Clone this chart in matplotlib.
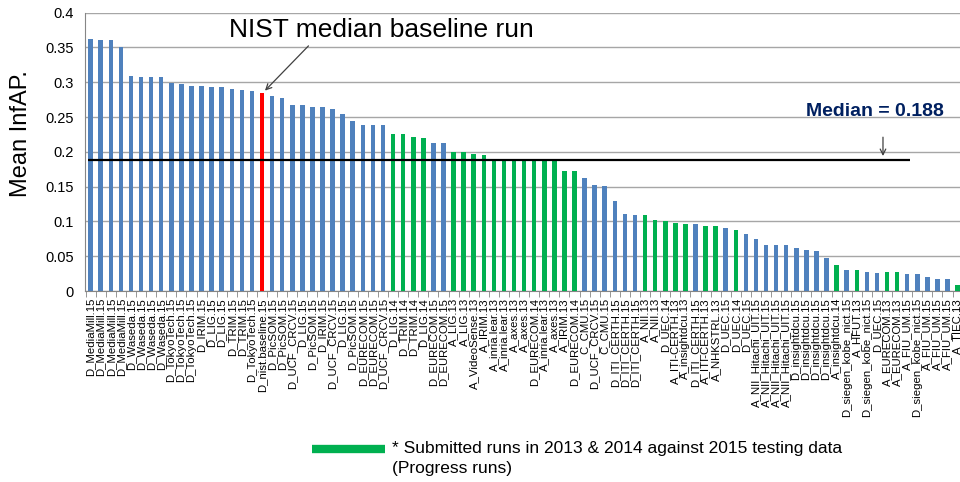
import numpy as np
import matplotlib
matplotlib.use("Agg")
import matplotlib.pyplot as plt
from matplotlib.ticker import FixedLocator

plt.rcParams['font.family'] = ['Liberation Sans', 'DejaVu Sans']

# run names, in ranked order
runs = (
    ['D_MediaMill.15'] * 4 + ['D_Waseda.15'] * 4 + ['D_TokyoTech.15'] * 3 +
    ['D_IRIM.15', 'D_LIG.15', 'D_LIG.15', 'D_TRIM.15', 'D_TRIM.15',
     'D_TokyoTech.15', 'D_nist.baseline.15', 'D_PicSOM.15', 'D_PicSOM.15',
     'D_UCF_CRCV.15', 'D_LIG.15', 'D_PicSOM.15', 'D_IRIM.15', 'D_UCF_CRCV.15',
     'D_LIG.15', 'D_PicSOM.15', 'D_EURECOM.15', 'D_EURECOM.15', 'D_UCF_CRCV.15',
     'D_LIG.14', 'D_TRIM.14', 'D_TRIM.14', 'D_LIG.14', 'D_EURECOM.15',
     'D_EURECOM.15', 'A_LIG.13', 'A_LIG.13', 'A_VideoSense.13', 'A_IRIM.13',
     'A_inria.lear.13', 'A_inria.lear.13', 'A_axes.13', 'A_axes.13',
     'D_EURECOM.14', 'A_inria.lear.13', 'A_axes.13', 'A_IRIM.13',
     'D_EURECOM.14', 'C_CMU.15', 'D_UCF_CRCV.15', 'C_CMU.15',
     'D_ITI_CERTH.15', 'D_ITI_CERTH.15', 'D_ITI_CERTH.15', 'A_NII.13',
     'A_NII.13', 'D_UEC.14', 'A_ITI-CERTH.13', 'A_insightdcu.13',
     'D_ITI_CERTH.15', 'A_ITI-CERTH.13', 'A_NHKSTRL.13', 'D_UEC.15',
     'D_UEC.14', 'D_UEC.15'] +
    ['A_NII_Hitachi_UIT.15'] * 4 + ['D_insightdcu.15'] * 4 +
    ['A_insightdcu.14', 'D_siegen_kobe_nict.15', 'A_HFUT.13',
     'D_siegen_kobe_nict.15', 'D_UEC.15', 'A_EURECOM.13', 'A_EURECOM.13',
     'A_FIU_UM.15', 'D_siegen_kobe_nict.15', 'A_FIU_UM.15', 'A_FIU_UM.15',
     'A_FIU_UM.15', 'A_TIEC.13']
)

infap = [
    0.362, 0.360, 0.360, 0.350, 0.309, 0.307, 0.307, 0.307, 0.299, 0.297,
    0.295, 0.295, 0.293, 0.293, 0.290, 0.289, 0.287, 0.284, 0.280, 0.277,
    0.267, 0.267, 0.265, 0.264, 0.262, 0.254, 0.244, 0.239, 0.239, 0.238,
    0.225, 0.225, 0.221, 0.220, 0.213, 0.213, 0.200, 0.200, 0.197, 0.195,
    0.188, 0.188, 0.188, 0.188, 0.188, 0.188, 0.188, 0.173, 0.173, 0.162,
    0.152, 0.151, 0.129, 0.111, 0.110, 0.109, 0.102, 0.100, 0.098, 0.097,
    0.096, 0.094, 0.093, 0.090, 0.088, 0.082, 0.075, 0.066, 0.066, 0.066,
    0.062, 0.059, 0.057, 0.047, 0.037, 0.031, 0.030, 0.028, 0.026, 0.027,
    0.027, 0.025, 0.024, 0.020, 0.018, 0.018, 0.009,
]

y_ticks = [0, 0.05, 0.1, 0.15, 0.2, 0.25, 0.3, 0.35, 0.4]
y_tick_labels = ['0', '0.05', '0.1', '0.15', '0.2', '0.25', '0.3', '0.35', '0.4']

median_value = 0.188
baseline_run = 'D_nist.baseline.15'

BLUE = '#4f81bd'
GREEN = '#00b050'
RED = '#ff0000'


def bar_colour(name):
    if name == baseline_run:
        return RED
    if name.endswith('.13') or name.endswith('.14'):
        return GREEN
    return BLUE


x = np.arange(len(runs))
colours = [bar_colour(r) for r in runs]

fig = plt.figure(figsize=(9.6, 4.82), dpi=100)
ax = fig.add_axes([0.0885, 0.396, 0.9115, 0.578])

ax.bar(x, infap, width=0.45, color=colours, zorder=3)

ax.set_xlim(-0.565, 86.24)
ax.set_ylim(0, 0.4)
ax.set_yticks(y_ticks)
ax.set_yticklabels(y_tick_labels)
ax.grid(axis='y', color='#a6a6a6', linewidth=1.0, zorder=0)
ax.set_axisbelow(True)

ax.set_xticks(x)
ax.set_xticklabels(runs, rotation=90, fontsize=8.2, va='top')
ax.xaxis.set_minor_locator(FixedLocator(np.arange(-0.5, len(runs), 1.0)))
ax.tick_params(axis='x', which='major', length=0, pad=5)
ax.tick_params(axis='x', which='minor', length=4, color='#868686', direction='out')
ax.tick_params(axis='y', length=0, labelsize=10.5, pad=8)

for s in ('top', 'right'):
    ax.spines[s].set_visible(False)
ax.spines['left'].set_color('#868686')
ax.spines['bottom'].set_color('#868686')

ax.set_ylabel('Mean InfAP.', fontsize=17)
ax.yaxis.set_label_coords(-0.06, 0.565)

# median line
ax.hlines(median_value, -0.27, 81.3, color='black', linewidth=1.6, zorder=4)
ax.annotate('', xy=(78.6, median_value + 0.002), xytext=(78.6, 0.225),
            arrowprops=dict(arrowstyle='->', color='#404040', lw=0.9))
ax.text(77.8, 0.258, f'Median = {median_value}', fontsize=14, fontweight='bold',
        color='#002060', ha='center', va='center')

# NIST baseline callout
ibase = runs.index(baseline_run)
ax.annotate('', xy=(ibase + 0.1, infap[ibase] + 0.001), xytext=(21.8, 0.355),
            arrowprops=dict(arrowstyle='->', color='#404040', lw=0.9))
ax.text(28.8, 0.3755, 'NIST median baseline run', fontsize=19,
        ha='center', va='center')

# legend swatch + note
fig.add_artist(plt.Line2D([312 / 960, 385 / 960], [1 - 449 / 482, 1 - 449 / 482],
                          color=GREEN, linewidth=6, solid_capstyle='butt'))
fig.text(392 / 960, 1 - 449 / 482,
         '* Submitted runs in 2013 & 2014 against 2015 testing data',
         fontsize=12.5, va='center', ha='left')
fig.text(392 / 960, 1 - 468 / 482, '(Progress runs)',
         fontsize=12.5, va='center', ha='left')

fig.savefig('out.png', dpi=100)
